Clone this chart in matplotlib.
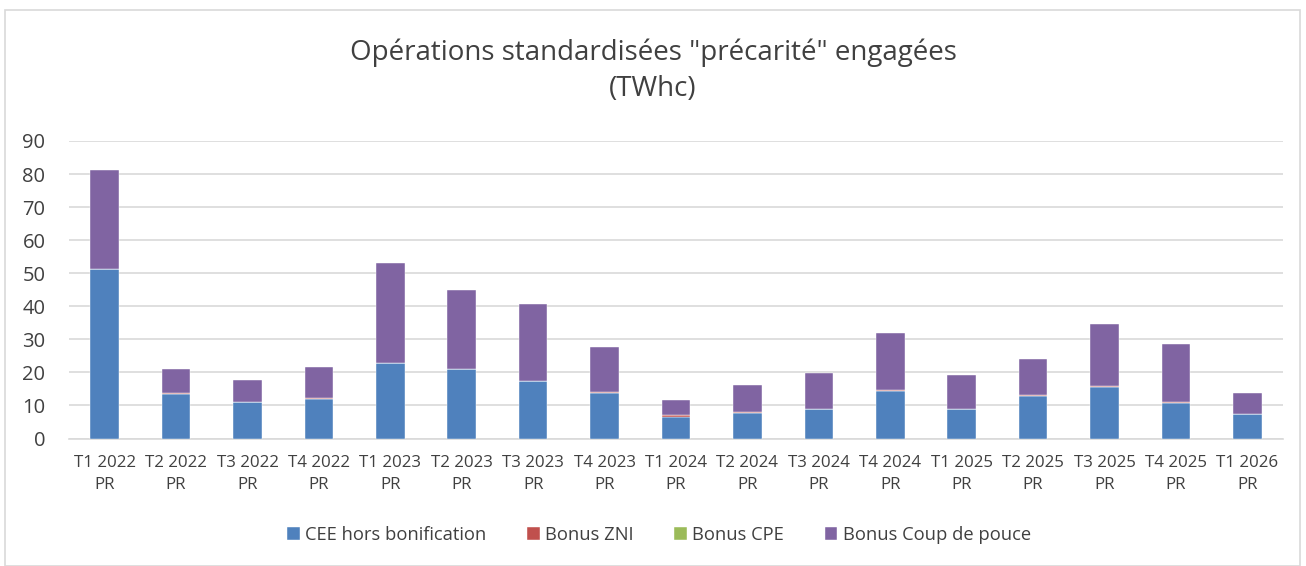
import matplotlib.pyplot as plt
import numpy as np
from matplotlib.patches import Rectangle

plt.rcParams['font.family'] = ['Open Sans', 'DejaVu Sans']

# Quarters (x axis)
quarters = ["T1 2022\nPR", "T2 2022\nPR", "T3 2022\nPR", "T4 2022\nPR",
            "T1 2023\nPR", "T2 2023\nPR", "T3 2023\nPR", "T4 2023\nPR",
            "T1 2024\nPR", "T2 2024\nPR", "T3 2024\nPR", "T4 2024\nPR",
            "T1 2025\nPR", "T2 2025\nPR", "T3 2025\nPR", "T4 2025\nPR",
            "T1 2026\nPR"]

# values (TWhc)
cee_hors_bonif = [51.2, 13.6, 10.9, 11.8, 22.7, 20.9, 17.3, 13.9,
                  6.6, 7.7, 8.8, 14.3, 8.9, 12.9, 15.6, 10.8, 7.3]
bonus_zni = [0.2, 0.2, 0.2, 0.4, 0.2, 0.1, 0.2, 0.2,
             0.5, 0.3, 0.2, 0.4, 0.1, 0.2, 0.3, 0.2, 0.2]
bonus_cpe = [0.0] * 17
bonus_cdp = [29.9, 7.3, 6.7, 9.5, 30.3, 24.0, 23.3, 13.6,
             4.6, 8.2, 10.7, 17.2, 10.3, 11.0, 18.8, 17.6, 6.3]

colors = ["#4F81BD", "#C0504D", "#9BBB59", "#8064A2"]
labels = ["CEE hors bonification", "Bonus ZNI", "Bonus CPE", "Bonus Coup de pouce"]

fig = plt.figure(figsize=(13.06, 5.66), dpi=100)
ax = fig.add_axes([69 / 1306, 1 - 438.5 / 566, 1214 / 1306, 297.5 / 566])

x = np.arange(len(quarters))
bottom = np.zeros(len(quarters))
for vals, col, lab in zip([cee_hors_bonif, bonus_zni, bonus_cpe, bonus_cdp], colors, labels):
    ax.bar(x, vals, width=0.4, bottom=bottom, color=col, label=lab,
           edgecolor="white", linewidth=0.3, zorder=3)
    bottom += np.array(vals)

ax.set_xlim(-0.5, len(quarters) - 0.5)
ax.set_ylim(0, 90)
ax.set_yticks(range(0, 91, 10))
ax.set_xticks(x)
ax.set_xticklabels(quarters, fontsize=12.2, color="#404040", linespacing=1.45)
ax.tick_params(axis="y", labelsize=14.5, labelcolor="#404040", length=0, pad=17)
ax.tick_params(axis="x", length=0, pad=12)
ax.grid(axis="y", color="#D9D9D9", linewidth=1.2, zorder=0)
for s in ["top", "right", "left"]:
    ax.spines[s].set_visible(False)
ax.spines["bottom"].set_color("#D9D9D9")
ax.spines["bottom"].set_linewidth(1.2)

fig.text(0.5, 1 - 71 / 566, "Opérations standardisées \"précarité\" engagées\n(TWhc)",
         ha="center", va="center", fontsize=20, color="#404040", linespacing=1.37)

fig.legend(loc="center", bbox_to_anchor=(659 / 1306, 1 - 535 / 566), ncol=4,
           frameon=False, fontsize=13.2, handlelength=0.7, handleheight=0.7,
           handletextpad=0.3, columnspacing=2.2, labelcolor="#404040")

# light frame around the chart
fig.patches.append(Rectangle((5 / 1306, 0), 1295 / 1306, 1 - 10 / 566, transform=fig.transFigure,
                             fill=False, edgecolor="#D9D9D9", linewidth=1.2))

fig.savefig("out.png", dpi=100)
